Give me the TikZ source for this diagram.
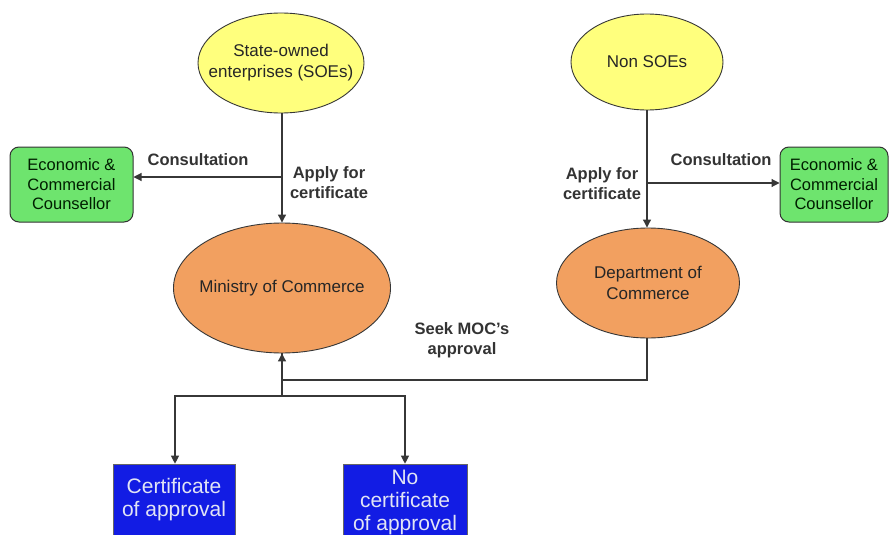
\documentclass[tikz,border=0pt]{standalone}
\usepackage{fontspec}
\setmainfont{Liberation Sans}
\usetikzlibrary{shapes.geometric,arrows.meta}
\definecolor{ylw}{RGB}{255,255,125}
\definecolor{org}{RGB}{242,160,96}
\definecolor{grn}{RGB}{110,228,110}
\definecolor{blu}{RGB}{18,28,228}
\definecolor{ln}{RGB}{55,55,55}
\definecolor{btxt}{RGB}{225,228,245}
\tikzset{
  ell/.style={ellipse, draw=ln, line width=0.9pt, inner xsep=-40pt, inner ysep=-10pt, align=center, font=\fontsize{17}{21}\selectfont, text=black!85},
  gbox/.style={rectangle, rounded corners=9pt, draw=black!80, line width=1pt, fill=grn, inner sep=0pt, align=center, text=black!80!green!60!black, font=\fontsize{16.5}{19.5}\selectfont},
  bbox/.style={rectangle, fill=blu, draw=black!60, line width=0.6pt, inner sep=0pt, align=center, text=btxt, font=\fontsize{21}{23}\selectfont},
  lbl/.style={font=\bfseries\fontsize{16.5}{20}\selectfont, text=black!80, align=center},
  con/.style={draw=ln, line width=1.1pt},
  arr/.style={con, -{Triangle[length=8pt,width=8pt]}}
}
\begin{document}
\begin{tikzpicture}[x=1pt,y=-1pt]
\clip (0,0) rectangle (892,535);
\fill[white] (0,0) rectangle (892,535);
% nodes
\node[ell, fill=ylw, minimum width=166, minimum height=100] (soe) at (281,63) {State-owned\\enterprises (SOEs)};
\node[ell, fill=ylw, minimum width=152, minimum height=96] (non) at (647,62) {Non SOEs};
\node[ell, fill=org, minimum width=217, minimum height=130] (moc) at (282,288) {Ministry of Commerce};
\node[ell, fill=org, minimum width=183, minimum height=110] (doc) at (648,283) {Department of\\Commerce};
\node[gbox, minimum width=123, minimum height=75] (g1) at (71.5,184.5) {Economic \&\\Commercial\\Counsellor};
\node[gbox, minimum width=108, minimum height=75] (g2) at (834,184.5) {Economic \&\\Commercial\\Counsellor};
\node[bbox, minimum width=122, minimum height=72] (b1) at (174,500) {Certificate\\of approval};
\node[bbox, minimum width=124, minimum height=76] (b2) at (405,502) {No\\certificate\\of approval};
% coordinates
\coordinate (cl) at (282,177);
\coordinate (cr) at (647,183);
\coordinate (sr) at (647,380);
\coordinate (sl) at (282,380);
\coordinate (br) at (282,396);
\coordinate (bl1) at (175,396);
\coordinate (bl2) at (405,396);
% connectors
\draw[arr] (soe.south -| moc.north) -- (moc.north);
\draw[arr] (cl) -- (cl -| g1.east);
\draw[arr] (non.south) -- (non.south |- doc.north);
\draw[arr] (cr) -- (cr -| g2.west);
\draw[arr] (doc.south -| sr) -- (sr) -- (sl) -- (moc.south);
\draw[con] (moc.south) -- (br);
\draw[arr] (br) -- (bl1) -- (bl1 |- b1.north);
\draw[arr] (br) -- (bl2) -- (b2.north);
% labels
\node[lbl] (l1) at (198,160) {Consultation};
\node[lbl] (l2) at (329,183) {Apply for\\certificate};
\node[lbl] (l3) at (721,160) {Consultation};
\node[lbl] (l4) at (602,184) {Apply for\\certificate};
\node[lbl] (l5) at (462,340) {Seek MOC’s\\approval};
\end{tikzpicture}
\end{document}
